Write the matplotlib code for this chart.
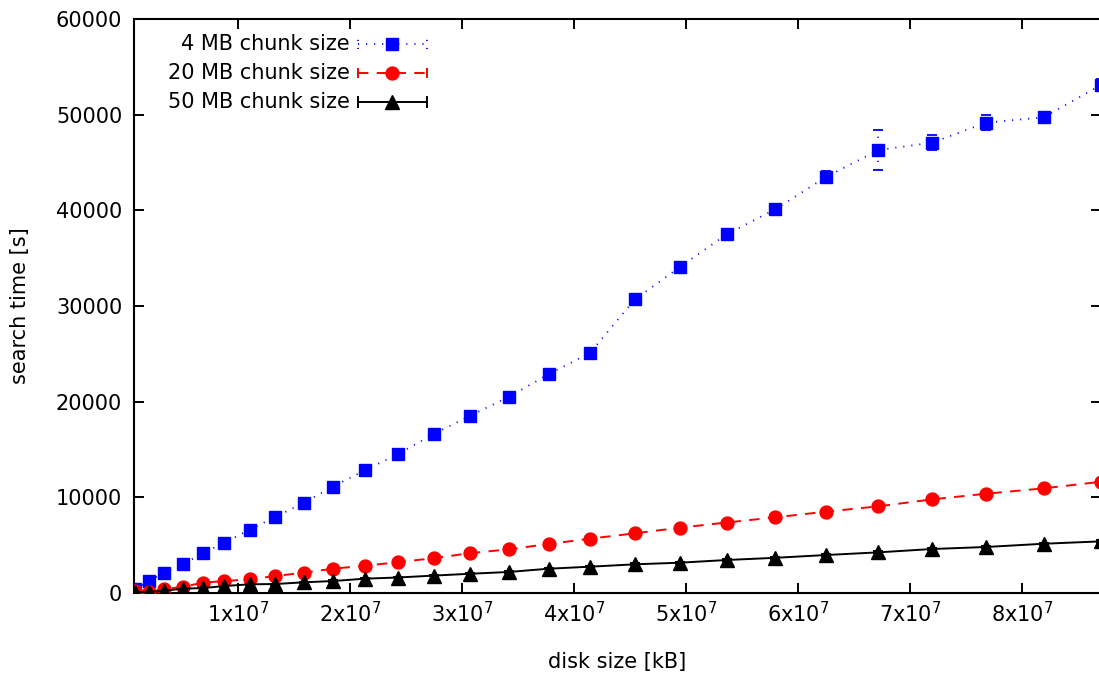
import matplotlib
matplotlib.use("Agg")
import matplotlib.pyplot as plt

plt.rcParams['font.family'] = ['DejaVu Sans']
plt.rcParams['mathtext.default'] = 'regular'
plt.rcParams['lines.scale_dashes'] = False

# disk size [kB]
disk_size = [0.78e6, 2.03e6, 3.34e6, 5.09e6, 6.85e6, 8.75e6, 11.02e6, 13.30e6, 15.87e6,
             18.43e6, 21.31e6, 24.23e6, 27.45e6, 30.66e6, 34.17e6, 37.71e6, 41.40e6,
             45.42e6, 49.44e6, 53.61e6, 57.95e6, 62.47e6, 67.14e6, 71.96e6, 76.76e6,
             81.91e6, 87.03e6]

# search time [s]
time_4mb = [390, 1250, 2120, 3030, 4150, 5260, 6620, 7940, 9440, 11110, 12830, 14500,
            16620, 18500, 20520, 22860, 25090, 30700, 34080, 37490, 40110, 43480,
            46300, 47070, 49160, 49720, 53100]
err_4mb = [150, 200, 250, 300, 300, 300, 300, 350, 350, 400, 400, 400, 450, 450, 500,
           500, 500, 550, 550, 600, 600, 600, 2050, 770, 760, 520, 600]

time_20mb = [240, 100, 390, 660, 1080, 1250, 1430, 1780, 2120, 2540, 2850, 3220, 3640,
             4160, 4570, 5120, 5680, 6240, 6830, 7370, 7910, 8500, 9060, 9790, 10380,
             10940, 11630]
err_20mb = [50, 50, 60, 60, 70, 70, 80, 80, 90, 90, 100, 100, 110, 110, 120, 120, 130,
            130, 140, 140, 150, 150, 160, 160, 170, 170, 180]

time_50mb = [60, 105, 240, 450, 520, 730, 910, 940, 1120, 1250, 1500, 1620, 1820, 2010,
             2200, 2540, 2750, 3000, 3170, 3450, 3680, 3970, 4250, 4600, 4810, 5150, 5400]
err_50mb = [30, 30, 40, 40, 40, 50, 50, 50, 60, 60, 60, 70, 70, 70, 80, 80, 80, 90, 90,
            90, 100, 100, 100, 110, 110, 110, 120]

series_labels = ['4 MB chunk size', '20 MB chunk size', '50 MB chunk size']
x_ticks = [1e7, 2e7, 3e7, 4e7, 5e7, 6e7, 7e7, 8e7]
x_tick_labels = [r'$1x10^{7}$', r'$2x10^{7}$', r'$3x10^{7}$', r'$4x10^{7}$',
                 r'$5x10^{7}$', r'$6x10^{7}$', r'$7x10^{7}$', r'$8x10^{7}$']
y_ticks = [0, 10000, 20000, 30000, 40000, 50000, 60000]

FS = 15

fig = plt.figure(figsize=(10.99, 6.81), dpi=100)
ax = fig.add_axes([0.1219, 0.1292, 0.8799, 0.8429])

dot = (0, (0.8, 5.0))
dash = (0, (7.5, 6.0))
styles = [
    dict(color='#0000ff', ls=dot, lw=1.3, marker='s', ms=9.3),
    dict(color='#ff0000', ls=dash, lw=1.4, marker='o', ms=9.3),
    dict(color='#000000', ls='-', lw=1.4, marker='^', ms=9.5),
]
ys = [time_4mb, time_20mb, time_50mb]
errs = [err_4mb, err_20mb, err_50mb]

for y, e, st in zip(ys, errs, styles):
    eb = ax.errorbar(disk_size, y, yerr=e, color=st['color'], ls=st['ls'], lw=st['lw'],
                     marker=st['marker'], ms=st['ms'], mec=st['color'], capsize=3.6,
                     elinewidth=st['lw'], capthick=st['lw'], clip_on=True, zorder=3)
    for bl in eb[2]:
        bl.set_linestyle(st['ls'])

ax.set_xlim(disk_size[0] - 0.09e6, disk_size[-1])
ax.set_ylim(0, 60000)
ax.set_xticks(x_ticks)
ax.set_xticklabels(x_tick_labels)
ax.set_yticks(y_ticks)
ax.set_yticklabels([str(v) for v in y_ticks])

ax.tick_params(direction='in', length=7.2, width=1.4, top=True, right=True,
               labelsize=FS, colors='black')
ax.tick_params(axis='y', pad=8.5)
ax.tick_params(axis='x', pad=6)
for sp in ax.spines.values():
    sp.set_linewidth(1.5)

ax.set_xlabel('disk size [kB]', fontsize=FS)
ax.set_ylabel('search time [s]', fontsize=FS)
ax.xaxis.set_label_coords(0.5, -0.103)
ax.yaxis.set_label_coords(-0.108, 0.50)

# legend (gnuplot style: text right-aligned, sample on the right)
leg_rows = [0.9564, 0.9059, 0.8554]
tx = 0.2234
x0, x1, xm = 0.2317, 0.3030, 0.2670
for lab, yy, st in zip(series_labels, leg_rows, styles):
    ax.text(tx, yy, lab, transform=ax.transAxes, ha='right', va='center', fontsize=FS)
    ax.plot([x0, x1], [yy, yy], transform=ax.transAxes, color=st['color'], ls=st['ls'],
            lw=st['lw'], clip_on=False)
    for xe in (x0, x1):
        ax.plot([xe, xe], [yy - 0.009, yy + 0.009], transform=ax.transAxes,
                color=st['color'], ls=st['ls'], lw=st['lw'], clip_on=False)
    ax.plot([xm], [yy], transform=ax.transAxes, color=st['color'], marker=st['marker'],
            ms=st['ms'], ls='none', clip_on=False)

fig.savefig('out.png', dpi=100)
